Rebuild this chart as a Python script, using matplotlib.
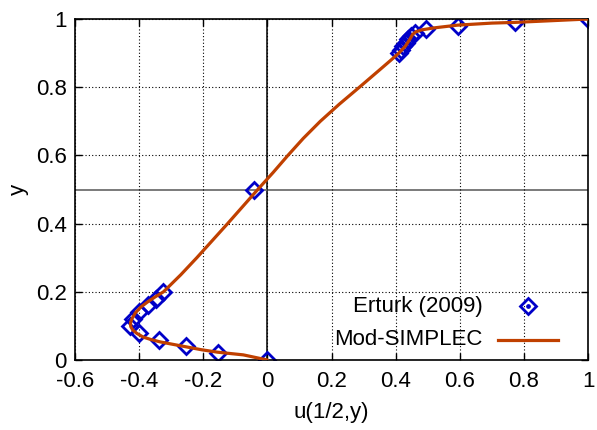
import matplotlib
matplotlib.use("Agg")
import matplotlib.pyplot as plt
from matplotlib.lines import Line2D

plt.rcParams['font.family'] = ['Liberation Sans', 'DejaVu Sans']

# Erturk (2009) benchmark: u-velocity along the vertical centreline
erturk_y = [0.0, 0.02, 0.04, 0.06, 0.08, 0.10, 0.12, 0.14, 0.16, 0.18, 0.20,
            0.50,
            0.90, 0.91, 0.92, 0.93, 0.94, 0.95, 0.96, 0.97, 0.98, 0.99, 1.0]
erturk_u = [0.0, -0.155, -0.255, -0.337, -0.400, -0.427, -0.420, -0.400, -0.372, -0.347, -0.325,
            -0.041,
            0.410, 0.417, 0.424, 0.431, 0.438, 0.447, 0.460, 0.496, 0.593, 0.771, 1.0]

# Mod-SIMPLEC solution
simplec_y = [0.0, 0.015, 0.023, 0.030, 0.038, 0.046, 0.053, 0.060, 0.067, 0.078, 0.088,
             0.098, 0.108, 0.120, 0.138, 0.155, 0.170, 0.185, 0.200, 0.250, 0.300,
             0.350, 0.400, 0.450, 0.500, 0.550, 0.600, 0.650, 0.700, 0.750, 0.800,
             0.850, 0.880, 0.900, 0.920, 0.940, 0.955, 0.962, 0.968, 0.974, 0.982,
             0.988, 0.990, 0.995, 1.0]
simplec_u = [0.0, -0.075, -0.156, -0.205, -0.250, -0.295, -0.334, -0.363, -0.387, -0.407, -0.420,
             -0.426, -0.427, -0.423, -0.412, -0.395, -0.374, -0.350, -0.324, -0.270, -0.220,
             -0.172, -0.124, -0.077, -0.030, 0.018, 0.064, 0.112, 0.165, 0.224, 0.287,
             0.349, 0.386, 0.410, 0.430, 0.444, 0.453, 0.462, 0.480, 0.520, 0.593,
             0.700, 0.770, 0.885, 1.0]

x_ticks = [-0.6, -0.4, -0.2, 0, 0.2, 0.4, 0.6, 0.8, 1]
x_tick_labels = ['-0.6', '-0.4', '-0.2', '0', '0.2', '0.4', '0.6', '0.8', '1']
y_ticks = [0, 0.2, 0.4, 0.6, 0.8, 1]
y_tick_labels = ['0', '0.2', '0.4', '0.6', '0.8', '1']

marker_color = '#0000c8'
line_color = '#c04000'
fs = 16

fig = plt.figure(figsize=(5.97, 4.30), dpi=100)
ax = fig.add_axes([0.1256, 0.1628, 0.985 - 0.1256, 0.9558 - 0.1628])

ax.set_xlim(-0.6, 1.0)
ax.set_ylim(0, 1.0)
ax.set_xticks(x_ticks)
ax.set_xticklabels(x_tick_labels)
ax.set_yticks(y_ticks)
ax.set_yticklabels(y_tick_labels)
ax.tick_params(axis='x', direction='in', length=5, width=1, top=True,
               labelsize=fs, pad=8)
ax.tick_params(axis='y', direction='in', length=5, width=1, right=True,
               labelsize=fs, pad=6)
ax.grid(True, color='black', linestyle=(0, (1, 2)), linewidth=0.8)
for s in ax.spines.values():
    s.set_linewidth(1.2)

# reference lines
ax.axvline(0, color='black', linewidth=1.1, zorder=1.5)
ax.axhline(0.5, color='#707070', linewidth=1.3, zorder=1.5)

ax.plot(simplec_u, simplec_y, color=line_color, linewidth=2.3, zorder=3,
        solid_capstyle='round', solid_joinstyle='round')
ax.plot(erturk_u, erturk_y, linestyle='none', marker='D', markersize=8.4,
        markerfacecolor='none', markeredgecolor=marker_color,
        markeredgewidth=2.0, zorder=2.5)

ax.set_xlabel('u(1/2,y)', fontsize=fs, labelpad=7)
ax.set_ylabel('y', fontsize=fs, labelpad=5)

# key, gnuplot style: right-aligned text followed by the sample
ax.text(0.795, 0.158, 'Erturk (2009)', transform=ax.transAxes, ha='right',
        va='center', fontsize=fs)
ax.text(0.795, 0.059, 'Mod-SIMPLEC', transform=ax.transAxes, ha='right',
        va='center', fontsize=fs)
ax.add_line(Line2D([0.883], [0.158], transform=ax.transAxes, linestyle='none',
                   marker='D', markersize=8.4, markerfacecolor='none',
                   markeredgecolor=marker_color, markeredgewidth=2.0))
ax.add_line(Line2D([0.883], [0.158], transform=ax.transAxes, linestyle='none',
                   marker='o', markersize=2.4, markerfacecolor=marker_color,
                   markeredgecolor=marker_color))
ax.add_line(Line2D([0.825, 0.942], [0.059, 0.059], transform=ax.transAxes,
                   color=line_color, linewidth=2.3))

fig.savefig('out.png', dpi=100)
